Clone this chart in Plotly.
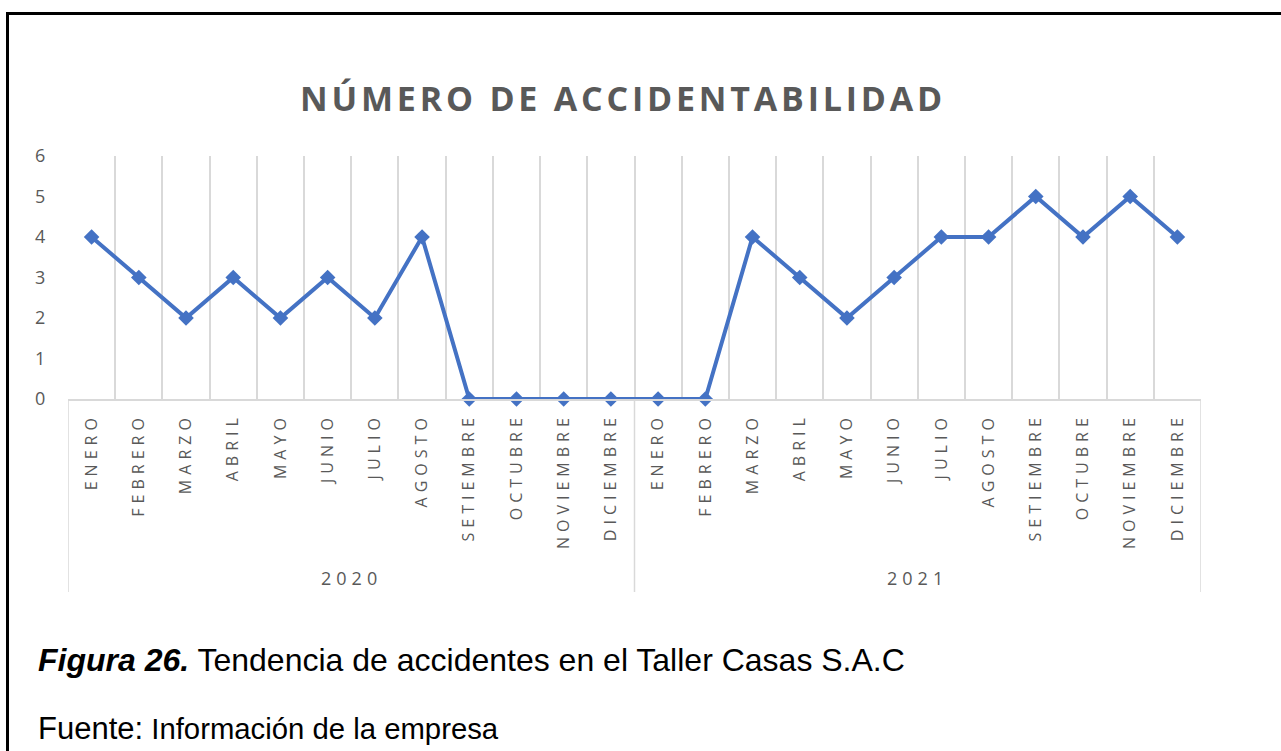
import plotly.graph_objects as go

# ---------------- data ----------------
years = ["2020", "2021"]
months = ["ENERO", "FEBRERO", "MARZO", "ABRIL", "MAYO", "JUNIO", "JULIO",
          "AGOSTO", "SETIEMBRE", "OCTUBRE", "NOVIEMBRE", "DICIEMBRE"]
values_2020 = [4, 3, 2, 3, 2, 3, 2, 4, 0, 0, 0, 0]
values_2021 = [0, 0, 4, 3, 2, 3, 4, 4, 5, 4, 5, 4]
y_ticks = [0, 1, 2, 3, 4, 5, 6]
title_text = "NÚMERO DE ACCIDENTABILIDAD"
caption_label = "Figura 26."
caption_text = "Tendencia de accidentes en el Taller Casas S.A.C"
source_label = "Fuente:"
source_text = "Información de la empresa"

# ---------------- layout helpers ----------------
W, H = 1281, 751
L, R, T, B = 68, 1201, 156, 399   # plot-area pixel bounds


def px(x):
    return (x - L) / (R - L)


def py(y):
    return (B - y) / (B - T)


def spaced(s, sp):
    return f'<span style="letter-spacing:{sp}px">{s}</span>'


GRAY = "#595959"
GRID = "#d9d9d9"
BLUE = "#4472C4"

cats = [f"{m} {y}" for y in years for m in months]
vals = values_2020 + values_2021
ticktext = [spaced(m, 5) for y in years for m in months]

fig = go.Figure()
fig.add_trace(go.Scatter(
    x=cats, y=vals, mode="lines+markers",
    line=dict(color=BLUE, width=4),
    marker=dict(symbol="diamond", size=12, color=BLUE),
    cliponaxis=False, showlegend=False,
))

fig.update_xaxes(
    type="category", categoryorder="array", categoryarray=cats,
    tickvals=cats, ticktext=ticktext, tickangle=-90,
    tickson="boundaries", ticks="outside", ticklen=15,
    ticklabelstandoff=6,
    tickcolor="rgba(0,0,0,0)",
    tickfont=dict(family="Open Sans", size=16, color=GRAY),
    showgrid=True, gridcolor=GRID, gridwidth=1.5,
    showline=True, linecolor=GRID, linewidth=1.5,
    zeroline=False, range=[-0.5, len(cats) - 0.5],
)
fig.update_yaxes(
    range=[0, 6], tickvals=y_ticks, showgrid=False, zeroline=False,
    showline=False, ticks="outside", ticklen=18,
    tickcolor="rgba(0,0,0,0)",
    tickfont=dict(family="Open Sans", size=18, color=GRAY),
)

shapes = []
n = len(months)
for i in range(len(years) + 1):
    xb = -0.5 + i * n
    shapes.append(dict(type="line", xref="x", yref="paper", x0=xb, x1=xb,
                       y0=0, y1=py(592), line=dict(color=GRID, width=1.5),
                       layer="below"))
# outer frame of the figure
shapes.append(dict(type="rect", xref="paper", yref="paper",
                   x0=px(7.5), x1=px(1295), y0=py(900), y1=py(13.5),
                   line=dict(color="black", width=3)))

annotations = []
for i, yr in enumerate(years):
    annotations.append(dict(
        xref="x", yref="paper", x=(n - 1) / 2 + i * n, y=py(578),
        text=spaced(yr, 5), showarrow=False, xanchor="center", yanchor="middle",
        font=dict(family="Open Sans", size=18, color=GRAY)))
annotations.append(dict(
    xref="paper", yref="paper", x=px(623), y=py(98),
    text="<b>" + spaced(title_text, 3.8) + "</b>", showarrow=False,
    xanchor="center", yanchor="middle",
    font=dict(family="Open Sans", size=34, color=GRAY)))
annotations.append(dict(
    xref="paper", yref="paper", x=px(36), y=py(660),
    text=f"<b><i>{caption_label}</i></b> {caption_text}", showarrow=False,
    xanchor="left", yanchor="middle",
    font=dict(family="Liberation Sans", size=32, color="black")))
annotations.append(dict(
    xref="paper", yref="paper", x=px(36), y=py(728),
    text=f'<span style="font-size:31px">{source_label}</span> {source_text}',
    showarrow=False, xanchor="left", yanchor="middle",
    font=dict(family="Liberation Sans", size=29.3, color="black")))

fig.update_layout(
    width=W, height=H,
    margin=dict(l=L, r=W - R, t=T, b=H - B, pad=0),
    paper_bgcolor="white", plot_bgcolor="white",
    shapes=shapes, annotations=annotations,
)

fig.write_html("out.html", config={"displayModeBar": False},
               post_script="document.body.style.margin='0';document.body.style.overflow='hidden';")
